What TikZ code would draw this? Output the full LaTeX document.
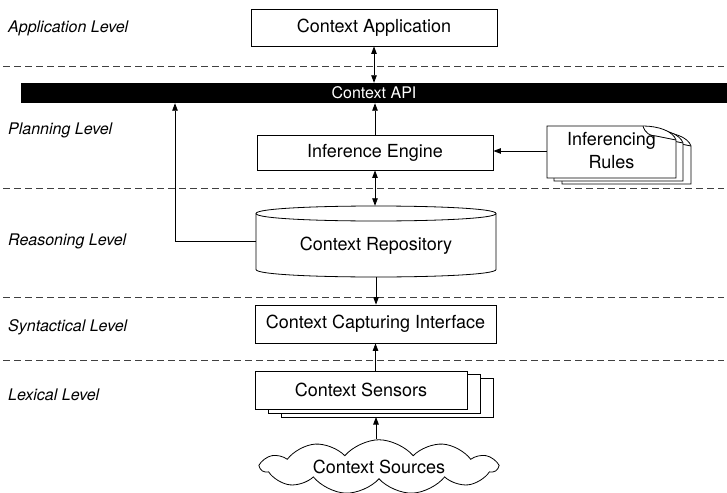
\documentclass[tikz,border=0pt]{standalone}
\usepackage{fontspec}
\setmainfont{TeX Gyre Heros}
\usetikzlibrary{arrows.meta,shapes.symbols}
\newcommand\docpage[4]{%
  \draw[pagebox] (#1,#2) -- ({#3-33},#2) .. controls ({#3-18},#2) and ({#3-3},{#2+5}) .. (#3,{#2+14}) -- (#3,#4) -- (#1,#4) -- cycle;
  \draw[pagebox] ({#3-33},#2) .. controls ({#3-31},{#2+7}) and ({#3-26},{#2+10}) .. ({#3-20},{#2+10}) -- (#3,{#2+14});}
\begin{document}
\begin{tikzpicture}[x=1pt,y=-1pt,
  every node/.style={font=\fontsize{18}{22}\selectfont},
  box/.style={draw, fill=white, line width=0.8pt, inner sep=0pt},
  pagebox/.style={draw, fill=white, line width=0.8pt},
  lvl/.style={anchor=west, inner sep=0pt, font=\fontsize{16}{19}\selectfont\itshape},
  sep/.style={draw=black!75, line width=1pt, dash pattern=on 7pt off 4pt},
  arr/.style={-{Triangle[length=7.5pt,width=5.5pt]}, line width=0.8pt},
  darr/.style={{Triangle[length=7.5pt,width=5.5pt]}-{Triangle[length=7.5pt,width=5.5pt]}, line width=0.8pt}]
\useasboundingbox (0,0) rectangle (727,492);

% level separators
\draw[sep] (3,67) -- (724,67);
\draw[sep] (3,188) -- (724,188);
\draw[sep] (3,297) -- (724,297);
\draw[sep] (3,360) -- (724,360);

% level labels
\node[lvl] (l1) at (8,28) {Application Level};
\node[lvl] (l2) at (8,130) {Planning Level};
\node[lvl] (l3) at (8,241) {Reasoning Level};
\node[lvl] (l4) at (8,327) {Syntactical Level};
\node[lvl] (l5) at (8,395) {Lexical Level};

% application
\node[box, minimum width=246, minimum height=37] (app) at (374,27.5) {Context Application};

% API bar
\node[fill=black, text=white, minimum width=706, minimum height=20, inner sep=0pt,
      font=\fontsize{16}{18}\selectfont] (api) at (374,93) {Context API};

% inference engine
\node[box, minimum width=236, minimum height=35] (ie) at (375,152.5) {Inference Engine};

% inferencing rules (stack of pages)
\docpage{562}{132}{691}{184}
\docpage{554}{129}{683}{181}
\docpage{547}{126}{676}{178}
\node[align=center, inner sep=0pt, minimum width=129, minimum height=52] (rules) at (611.5,151) {Inferencing\\[1pt]Rules};

% repository cylinder
\node[inner sep=0pt, minimum width=240, minimum height=71] (repo) at (376,241.5) {};
\draw[pagebox] (256,213.5) -- (256,269.5) .. controls (256,279.5) and (496,279.5) .. (496,269.5)
   -- (496,213.5) .. controls (496,203.5) and (256,203.5) .. cycle;
\draw[line width=0.8pt] (256,213.5) .. controls (256,223.5) and (496,223.5) .. (496,213.5);
\node[inner sep=0pt] (repotext) at (376,246) {Context Repository};

% capturing interface
\node[box, minimum width=241, minimum height=38] (cci) at (375.5,324) {Context Capturing Interface};

% sensors (stack)
\draw[pagebox] (281,378) rectangle (493,417);
\draw[pagebox] (268,374) rectangle (480,413);
\node[box, minimum width=212, minimum height=38] (sens) at (361,390) {Context Sensors};
\coordinate (sensbot) at (376,417);

% sources cloud
\node[cloud, draw, fill=white, line width=0.8pt, cloud puffs=11, cloud puff arc=100, aspect=6,
      minimum width=236, minimum height=44, inner sep=0pt] (src) at (379,467) {Context Sources};

% connectors
\draw[darr] (app.south) -- (app.south |- api.north);
\draw[arr] (ie.north) -- (ie.north |- api.south);
\draw[arr] (rules.west) -- (rules.west -| ie.east);
\draw[darr] (ie.south) -- (ie.south |- repo.north);
\coordinate (turnx) at (175,0);
\draw[arr] (repo.west) -| (turnx |- api.south);
\draw[arr] (repo.south) -- (repo.south |- cci.north);
\draw[arr] (cci.south |- sens.north) -- (cci.south);
\draw[arr] (src.north -| sensbot) -- (sensbot);
\end{tikzpicture}
\end{document}
